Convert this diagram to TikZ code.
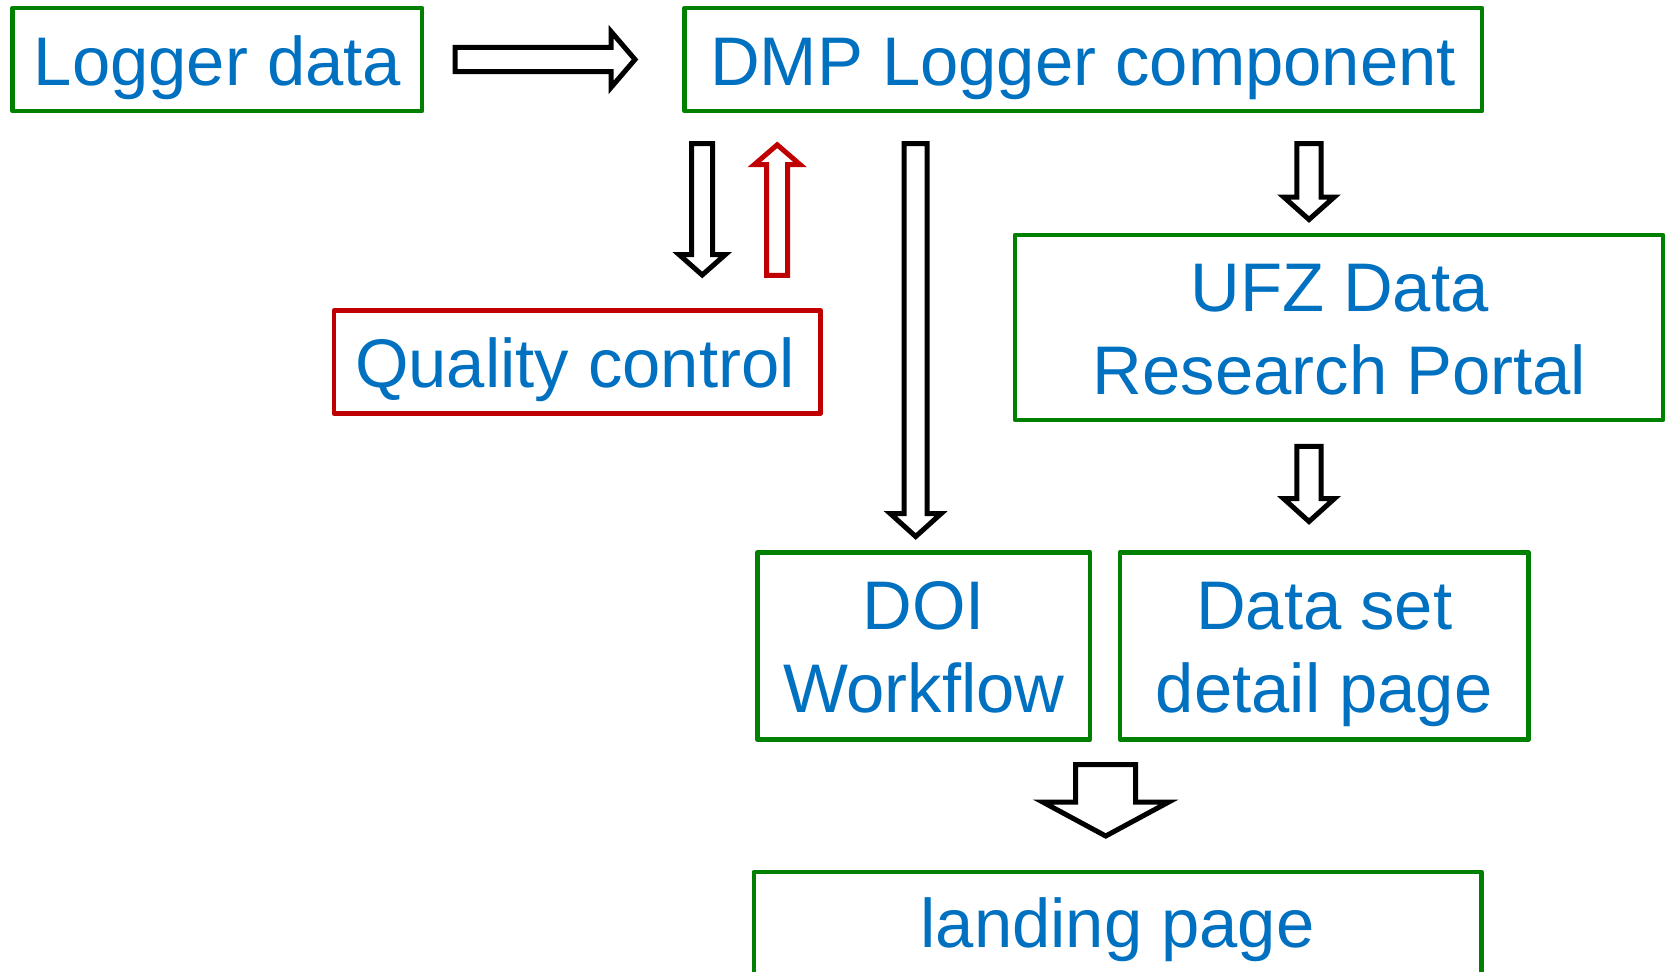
\documentclass[tikz,border=0pt]{standalone}
\usepackage{fontspec}
\setmainfont{Liberation Sans}
\usetikzlibrary{fit}
\definecolor{txtblue}{RGB}{0,112,192}
\definecolor{boxgreen}{RGB}{0,128,0}
\definecolor{boxred}{RGB}{192,0,0}
% vertical block arrow: cx, start, head base, tip, shaft half, head half, style
\newcommand\vblockarrow[7]{\draw[blockarrow,#7] ({#1-#5},#2) -- ({#1+#5},#2) -- ({#1+#5},#3) -- ({#1+#6},#3) -- (#1,#4) -- ({#1-#6},#3) -- ({#1-#5},#3) -- cycle;}
\begin{document}
\begin{tikzpicture}[x=0.5pt,y=-0.5pt,
  box/.style={draw=boxgreen,line width=2.3pt,inner sep=0pt,line join=round},
  redbox/.style={draw=boxred,line width=2.3pt,inner sep=0pt,line join=round},
  txt/.style={text=txtblue,font=\fontsize{34.4pt}{41.5pt}\selectfont,inner sep=0pt,anchor=base},
  blockarrow/.style={draw=black,line width=2.5pt,fill=white,line join=miter}]
\useasboundingbox (0,0) rectangle (1665,971);
\clip (0,0) rectangle (1665,971);
% boxes
\node[box,fit={(12.7,8)(422,111)}] (logger) {};
\node[box,fit={(684.5,8)(1482,111)}] (dmp) {};
\node[redbox,fit={(334,310.5)(820.5,413.5)}] (qc) {};
\node[box,fit={(1015,235)(1663,420)}] (ufz) {};
\node[box,fit={(757.5,552.3)(1090,739.5)}] (doi) {};
\node[box,fit={(1120,552.3)(1528.5,739.5)}] (ds) {};
\node[box,fit={(753.8,872)(1481.4,1010)}] (landing) {};
% texts
\node[txt] (tlogger) at (217.4,85.5) {Logger data};
\node[txt] (tdmp) at (1083,85.5) {DMP Logger component};
\node[txt] (tqc) at (575,387.7) {Quality control};
\node[txt] (tufz) at (1339.5,311.7) {\begin{tabular}[t]{@{}c@{}}UFZ Data\\Research Portal\end{tabular}};
\node[txt] (tdoi) at (923.8,629.3) {\begin{tabular}[t]{@{}c@{}}DOI\\Workflow\end{tabular}};
\node[txt] (tds) at (1324.3,629.3) {\begin{tabular}[t]{@{}c@{}}Data set\\detail page\end{tabular}};
\node[txt] (tlanding) at (1117.6,947.7) {landing page};
% right arrow Logger -> DMP
\draw[blockarrow] (455,47.3) -- (611,47.3) -- (611,31.5) -- (635,59.5) -- (611,87.5) -- (611,71.7) -- (455,71.7) -- cycle;
% DMP -> QC
\vblockarrow{702.2}{143.7}{254.7}{275}{10.5}{23}{}
% QC -> DMP (red)
\vblockarrow{777.2}{275.3}{164.7}{144.8}{10.5}{23}{draw=boxred}
% DMP -> DOI
\vblockarrow{915.7}{143.7}{513.7}{536.5}{11.5}{25.3}{}
% DMP -> UFZ
\vblockarrow{1309}{143.7}{197}{219.5}{12.2}{25.3}{}
% UFZ -> Data set
\vblockarrow{1309}{446.3}{498.7}{521.5}{12.2}{25.3}{}
% DOI / Data set -> landing page
\vblockarrow{1105.7}{764.7}{802}{836}{30}{63}{}
\end{tikzpicture}
\end{document}
